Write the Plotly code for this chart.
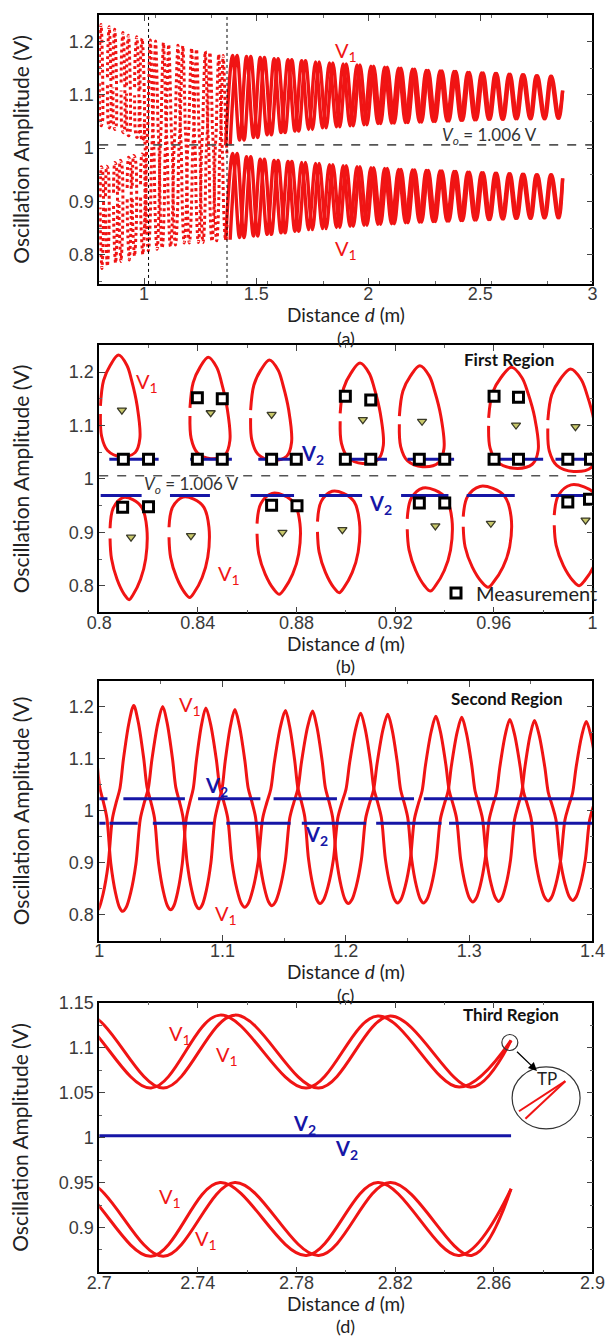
import plotly.graph_objects as go
from plotly.subplots import make_subplots

RED = "#f01414"
BLUE = "#1616a6"
GRAY = "#555555"
TXT = "Lato"
TICKF = "Liberation Sans"

# ---------------- data ----------------
V_O = 1.006
BIFURCATION_D = [1.02, 1.37]

# Solid V1 bands (two branches A/B) beyond the second region
A_PEAK_X = [1.395, 1.457, 1.518, 1.580, 1.642, 1.703, 1.765, 1.827, 1.888, 1.950, 2.012, 2.073,
            2.135, 2.197, 2.258, 2.320, 2.382, 2.443, 2.505, 2.566, 2.627, 2.687, 2.749, 2.813]
A_TROUGH_X = [1.364, 1.426, 1.488, 1.549, 1.611, 1.673, 1.734, 1.796, 1.858, 1.919, 1.981, 2.043, 2.104,
              2.166, 2.228, 2.289, 2.351, 2.413, 2.474, 2.536, 2.597, 2.657, 2.721, 2.784, 2.846]
B_PEAK_X = [1.415, 1.476, 1.537, 1.598, 1.659, 1.720, 1.781, 1.842, 1.902, 1.963, 2.024, 2.085,
            2.146, 2.207, 2.268, 2.329, 2.391, 2.451, 2.513, 2.573, 2.633, 2.694, 2.755, 2.818]
B_TROUGH_X = [1.384, 1.446, 1.507, 1.568, 1.629, 1.690, 1.751, 1.812, 1.873, 1.933, 1.994, 2.055, 2.116,
              2.177, 2.238, 2.299, 2.360, 2.421, 2.482, 2.543, 2.603, 2.664, 2.726, 2.789, 2.851]
UP_PEAK_Y = [1.174, 1.172, 1.170, 1.168, 1.166, 1.164, 1.162, 1.160, 1.158, 1.156, 1.154, 1.152,
             1.150, 1.148, 1.146, 1.145, 1.144, 1.142, 1.141, 1.140, 1.139, 1.138, 1.136, 1.135]
UP_TROUGH_Y = [1.005, 1.015, 1.020, 1.025, 1.029, 1.032, 1.035, 1.038, 1.040, 1.042, 1.044, 1.046, 1.047,
               1.048, 1.049, 1.050, 1.051, 1.052, 1.053, 1.054, 1.054, 1.055, 1.055, 1.055, 1.056]
LO_PEAK_Y = [0.990, 0.984, 0.979, 0.977, 0.975, 0.973, 0.971, 0.969, 0.967, 0.965, 0.963, 0.962,
             0.960, 0.959, 0.958, 0.957, 0.956, 0.955, 0.954, 0.953, 0.952, 0.951, 0.950, 0.950]
LO_TROUGH_Y = [0.828, 0.832, 0.835, 0.838, 0.841, 0.844, 0.847, 0.849, 0.851, 0.853, 0.855, 0.857, 0.858,
               0.860, 0.861, 0.862, 0.863, 0.864, 0.865, 0.866, 0.867, 0.868, 0.868, 0.869, 0.869]
TP_X = 2.867
TP_UP_Y = 1.108
TP_LO_Y = 0.943

# First region: closed V1 loops (bounding boxes)
B_UP_LEFT = [0.8005, 0.8368, 0.8614, 0.8977, 0.9217, 0.9579, 0.9819]
B_UP_RIGHT = [0.8165, 0.8530, 0.8780, 0.9152, 0.9398, 0.9780, 1.0020]
B_UP_BOTTOM = [1.042, 1.038, 1.035, 1.029, 1.023, 1.020, 1.014]
B_UP_TOP = [1.232, 1.228, 1.223, 1.217, 1.212, 1.209, 1.206]
B_LO_LEFT = [0.8044, 0.8283, 0.8640, 0.8885, 0.9249, 0.9476, 0.9845]
B_LO_RIGHT = [0.8193, 0.8445, 0.8814, 0.9055, 0.9430, 0.9670, 1.0040]
B_LO_BOTTOM = [0.774, 0.778, 0.784, 0.787, 0.790, 0.797, 0.800]
B_LO_TOP = [0.965, 0.966, 0.973, 0.977, 0.983, 0.986, 0.989]
# loop outline templates (fraction of box width / height)
UP_LOOP_U = [0.00, 0.08, 0.25, 0.46, 0.67, 0.79, 0.93, 1.00, 0.88, 0.52, 0.18, 0.03, 0.00]
UP_LOOP_W = [0.50, 0.75, 0.90, 1.00, 0.90, 0.75, 0.50, 0.18, 0.04, 0.00, 0.06, 0.20, 0.42]
LO_LOOP_U = [0.00, 0.09, 0.35, 0.62, 0.87, 1.00, 0.97, 0.83, 0.63, 0.52, 0.39, 0.19, 0.04, 0.00]
LO_LOOP_W = [0.70, 0.90, 1.00, 0.98, 0.90, 0.70, 0.40, 0.20, 0.05, 0.00, 0.05, 0.20, 0.40, 0.60]

B_V2_UP_Y = 1.037
B_V2_LO_Y = 0.969
B_V2_UP_START = [0.8041, 0.8369, 0.8645, 0.8978, 0.9250, 0.9578, 0.9850]
B_V2_UP_END = [0.8241, 0.8538, 0.8817, 0.9167, 0.9439, 0.9800, 1.0000]
B_V2_LO_START = [0.8006, 0.8287, 0.8614, 0.8891, 0.9224, 0.9490, 0.9831]
B_V2_LO_END = [0.8172, 0.8449, 0.8790, 0.9066, 0.9416, 0.9685, 1.0000]

MEAS_X = [0.8098, 0.8200, 0.8398, 0.8499, 0.8699, 0.8799, 0.8998, 0.9101, 0.9298, 0.9401, 0.9601, 0.9700, 0.9900, 0.9992,
          0.8398, 0.8499, 0.8998, 0.9101, 0.9601, 0.9700,
          0.8095, 0.8200, 0.8699, 0.8802, 0.9298, 0.9401, 0.9900, 0.9988]
MEAS_Y = [1.037, 1.037, 1.037, 1.037, 1.037, 1.037, 1.037, 1.037, 1.037, 1.037, 1.037, 1.037, 1.037, 1.037,
          1.152, 1.150, 1.155, 1.148, 1.155, 1.153,
          0.947, 0.948, 0.951, 0.950, 0.955, 0.955, 0.957, 0.962]
TRI_X = [0.8092, 0.8452, 0.8699, 0.9069, 0.9309, 0.9690, 0.9931, 0.8129, 0.8372, 0.8743, 0.8986, 0.9363, 0.9588, 0.9972]
TRI_Y = [1.129, 1.124, 1.121, 1.111, 1.108, 1.101, 1.098, 0.891, 0.894, 0.900, 0.905, 0.912, 0.917, 0.923]

# Second region: two V1 branches (extrema)
C_A_PEAK_X = [1.028, 1.0865, 1.151, 1.212, 1.273, 1.333, 1.395]
C_A_PEAK_Y = [1.203, 1.198, 1.193, 1.188, 1.182, 1.176, 1.172]
C_A_TROUGH_X = [0.997, 1.058, 1.118, 1.179, 1.242, 1.303, 1.364, 1.426]
C_A_TROUGH_Y = [0.805, 0.810, 0.815, 0.822, 0.823, 0.825, 0.827, 0.830]
C_B_PEAK_X = [0.990, 1.0515, 1.110, 1.173, 1.234, 1.294, 1.353, 1.415]
C_B_PEAK_Y = [1.205, 1.201, 1.195, 1.192, 1.186, 1.180, 1.174, 1.170]
C_B_TROUGH_X = [1.019, 1.081, 1.140, 1.202, 1.263, 1.324, 1.384]
C_B_TROUGH_Y = [0.807, 0.812, 0.818, 0.822, 0.823, 0.826, 0.828]
# shape of a swing between extrema (fraction of span, fraction of height)
DESC_F = [0.12, 0.27, 0.36, 0.46, 0.56, 0.67, 0.80, 0.91]
DESC_G = [0.92, 0.74, 0.60, 0.53, 0.45, 0.23, 0.09, 0.02]
ASC_F = [0.09, 0.20, 0.33, 0.44, 0.54, 0.64, 0.73, 0.88]
ASC_G = [0.02, 0.09, 0.23, 0.45, 0.53, 0.60, 0.74, 0.92]

C_V2_UP_Y = 1.0235
C_V2_LO_Y = 0.9765
C_V2_UP_START = [1.000, 1.0196, 1.0802, 1.1414, 1.2020, 1.2632]
C_V2_UP_END = [1.0067, 1.0695, 1.1307, 1.1928, 1.2553, 1.4000]
C_V2_LO_START = [1.000, 1.0083, 1.0435, 1.1031, 1.1643, 1.2246, 1.2837]
C_V2_LO_END = [1.0052, 1.0312, 1.0924, 1.1552, 1.2164, 1.2776, 1.4000]

# Third region V2
D_V2_Y = 1.002
D_V2_X = [2.700, 2.867]


# ---------------- builders ----------------
def band(tr_x, tr_y, pk_x, pk_y, end_x, end_y):
    xs, ys = [], []
    for i in range(len(pk_x)):
        xs += [tr_x[i], pk_x[i]]
        ys += [tr_y[i], pk_y[i]]
    xs += [tr_x[-1], end_x]
    ys += [tr_y[-1], end_y]
    return xs, ys


def loops(lefts, rights, bottoms, tops, U, W):
    xs, ys = [], []
    for l, r, b, t in zip(lefts, rights, bottoms, tops):
        xs += [l + u * (r - l) for u in U] + [None]
        ys += [b + w * (t - b) for w in W] + [None]
    return xs, ys


def swing(pk_x, pk_y, tr_x, tr_y):
    ext = sorted([(x, y, "P") for x, y in zip(pk_x, pk_y)] + [(x, y, "T") for x, y in zip(tr_x, tr_y)])
    xs, ys = [ext[0][0]], [ext[0][1]]
    for (x0, y0, k0), (x1, y1, k1) in zip(ext[:-1], ext[1:]):
        F, G = (DESC_F, DESC_G) if k0 == "P" else (ASC_F, ASC_G)
        lo, hi = min(y0, y1), max(y0, y1)
        for f, g in zip(F, G):
            xs.append(x0 + f * (x1 - x0))
            ys.append(lo + g * (hi - lo))
        xs.append(x1)
        ys.append(y1)
    return xs, ys


def segs(starts, ends, y):
    xs, ys = [], []
    for s, e in zip(starts, ends):
        xs += [s, e, None]
        ys += [y, y, None]
    return xs, ys


def clip(xs, ys, lo, hi):
    ox, oy = [], []
    for x, y in zip(xs, ys):
        if x is None or lo <= x <= hi:
            ox.append(x)
            oy.append(y)
    return ox, oy


fig = make_subplots(rows=4, cols=1)

up_loops = loops(B_UP_LEFT, B_UP_RIGHT, B_UP_BOTTOM, B_UP_TOP, UP_LOOP_U, UP_LOOP_W)
lo_loops = loops(B_LO_LEFT, B_LO_RIGHT, B_LO_BOTTOM, B_LO_TOP, LO_LOOP_U, LO_LOOP_W)
c_a = swing(C_A_PEAK_X, C_A_PEAK_Y, C_A_TROUGH_X, C_A_TROUGH_Y)
c_b = swing(C_B_PEAK_X, C_B_PEAK_Y, C_B_TROUGH_X, C_B_TROUGH_Y)
bands = [
    band(A_TROUGH_X, UP_TROUGH_Y, A_PEAK_X, UP_PEAK_Y, TP_X, TP_UP_Y),
    band(B_TROUGH_X, UP_TROUGH_Y, B_PEAK_X, UP_PEAK_Y, TP_X, TP_UP_Y),
    band(A_TROUGH_X, LO_TROUGH_Y, A_PEAK_X, LO_PEAK_Y, TP_X, TP_LO_Y),
    band(B_TROUGH_X, LO_TROUGH_Y, B_PEAK_X, LO_PEAK_Y, TP_X, TP_LO_Y),
]

dotted = dict(color=RED, width=3, dash="3px,3px", shape="spline", smoothing=1.0)
solid = dict(color=RED, width=3.4, shape="spline", smoothing=1.0)

# ----- (a) overview -----
for xs, ys in [up_loops, lo_loops, clip(*c_a, 1.0, 1.372), clip(*c_b, 1.0, 1.372)]:
    fig.add_trace(go.Scatter(x=xs, y=ys, mode="lines", line=dotted, showlegend=False, hoverinfo="skip"), 1, 1)
for xs, ys in bands:
    fig.add_trace(go.Scatter(x=xs, y=ys, mode="lines", line=solid, showlegend=False, hoverinfo="skip"), 1, 1)

# ----- (b) first region -----
for xs, ys in [up_loops, lo_loops]:
    fig.add_trace(go.Scatter(x=xs, y=ys, mode="lines", line=dict(color=RED, width=3, shape="spline", smoothing=1.0),
                             showlegend=False, hoverinfo="skip"), 2, 1)
for xs, ys in [segs(B_V2_UP_START, B_V2_UP_END, B_V2_UP_Y), segs(B_V2_LO_START, B_V2_LO_END, B_V2_LO_Y)]:
    fig.add_trace(go.Scatter(x=xs, y=ys, mode="lines", line=dict(color=BLUE, width=3), showlegend=False), 2, 1)
fig.add_trace(go.Scatter(x=TRI_X, y=TRI_Y, mode="markers", showlegend=False,
                         marker=dict(symbol="triangle-down", size=8, color="#c8c86a",
                                     line=dict(color="#3a3a28", width=1.3))), 2, 1)
fig.add_trace(go.Scatter(x=MEAS_X, y=MEAS_Y, mode="markers", name="Measurement", showlegend=True,
                         marker=dict(symbol="square", size=10, color="white",
                                     line=dict(color="black", width=3))), 2, 1)

# ----- (c) second region -----
for xs, ys in [c_a, c_b]:
    fig.add_trace(go.Scatter(x=xs, y=ys, mode="lines", line=dict(color=RED, width=3, shape="spline", smoothing=0.9),
                             showlegend=False, hoverinfo="skip"), 3, 1)
for xs, ys in [segs(C_V2_UP_START, C_V2_UP_END, C_V2_UP_Y), segs(C_V2_LO_START, C_V2_LO_END, C_V2_LO_Y)]:
    fig.add_trace(go.Scatter(x=xs, y=ys, mode="lines", line=dict(color=BLUE, width=3), showlegend=False), 3, 1)

# ----- (d) third region -----
for xs, ys in bands:
    fig.add_trace(go.Scatter(x=xs, y=ys, mode="lines", line=dict(color=RED, width=3, shape="spline", smoothing=1.0),
                             showlegend=False, hoverinfo="skip"), 4, 1)
fig.add_trace(go.Scatter(x=D_V2_X, y=[D_V2_Y, D_V2_Y], mode="lines", line=dict(color=BLUE, width=3),
                         showlegend=False), 4, 1)

# reference lines
for r in (1, 2):
    fig.add_hline(y=V_O, line=dict(color=GRAY, width=1.6, dash="dash"), row=r, col=1)
for xv in BIFURCATION_D:
    fig.add_vline(x=xv, line=dict(color="black", width=1, dash="dot"), row=1, col=1)

# ---------------- axes ----------------
W, H = 616, 1338
xdom = [90 / W, 605 / W]
ydoms = [(5, 276), (338, 607), (676, 938), (1000, 1272)]
xranges = [[0.8, 3.0], [0.8, 1.0], [1.0, 1.4], [2.7, 2.9]]
yranges = [[0.745, 1.25], [0.75, 1.25], [0.75, 1.25], [0.85, 1.15]]
xticks = [[1, 1.5, 2, 2.5, 3], [0.8, 0.84, 0.88, 0.92, 0.96, 1.0], [1.0, 1.1, 1.2, 1.3, 1.4],
          [2.7, 2.74, 2.78, 2.82, 2.86, 2.9]]
xtext = [["1", "1.5", "2", "2.5", "3"], ["0.8", "0.84", "0.88", "0.92", "0.96", "1"], ["1", "1.1", "1.2", "1.3", "1.4"],
         ["2.7", "2.74", "2.78", "2.82", "2.86", "2.9"]]
xminor = [0.25, 0.02, 0.05, 0.02]
yticks = [[0.8, 0.9, 1.0, 1.1, 1.2]] * 3 + [[0.9, 0.95, 1.0, 1.05, 1.1, 1.15]]
ytext = [["0.8", "0.9", "1", "1.1", "1.2"]] * 3 + [["0.9", "0.95", "1", "1.05", "1.1", "1.15"]]
yminor = [0.05, 0.05, 0.05, 0.025]
ystand = [33, 33, 33, 24]

tickfont = dict(family=TICKF, size=18, color="#3a3a3a")
for i in range(4):
    top, bot = ydoms[i]
    fig.update_xaxes(row=i + 1, col=1, domain=xdom, range=xranges[i], tickmode="array", tickvals=xticks[i],
                     ticktext=xtext[i], ticks="inside", ticklen=6, tickcolor="#444", showgrid=False, zeroline=False,
                     showline=True, linecolor="black", linewidth=1.6, mirror="allticks", tickfont=tickfont,
                     ticklabelstandoff=-7,
                     minor=dict(ticks="inside", ticklen=3, dtick=xminor[i], tick0=xranges[i][0], tickcolor="#666"))
    fig.update_yaxes(row=i + 1, col=1, domain=[1 - bot / H, 1 - top / H], range=yranges[i], tickmode="array",
                     tickvals=yticks[i], ticktext=ytext[i], ticks="inside", ticklen=6, tickcolor="#444",
                     showgrid=False, zeroline=False, showline=True, linecolor="black", linewidth=1.6,
                     mirror="allticks", tickfont=tickfont,
                     minor=dict(ticks="inside", ticklen=3, dtick=yminor[i], tick0=0.8, tickcolor="#666"),
                     title=dict(text="Oscillation Amplitude (V)", standoff=ystand[i],
                                font=dict(family=TXT, size=21, color="#222")))

# ---------------- annotations ----------------
ann = []


def txt(text, x, y, ref, color=RED, size=20, **kw):
    ann.append(dict(text=text, x=x, y=y, xref="x" + ref, yref="y" + ref, showarrow=False,
                    font=dict(family=TXT, size=size, color=color), **kw))


V1 = "V<sub>1</sub>"
V2 = "<b>V<sub>2</sub></b>"
VO = "<i>V<sub>o</sub></i> = 1.006 V"
# (a)
txt(V1, 1.90, 1.182, "", size=20)
txt(V1, 1.90, 0.809, "", size=20)
txt(VO, 2.54, 1.022, "", color="#333", size=17)
# (b)
txt(V1, 0.8195, 1.18, "2")
txt(V1, 0.8525, 0.822, "2")
txt(V2, 0.8863, 1.046, "2", color=BLUE)
txt(V2, 0.9140, 0.953, "2", color=BLUE)
txt(VO, 0.8375, 0.989, "2", color="#333", size=17)
txt("<b>First Region</b>", 0.966, 1.224, "2", color="#111", size=17)
# (c)
txt(V1, 1.074, 1.203, "3")
txt(V1, 1.103, 0.800, "3")
txt(V2, 1.0955, 1.048, "3", color=BLUE)
txt(V2, 1.1766, 0.952, "3", color=BLUE)
txt("<b>Second Region</b>", 1.331, 1.216, "3", color="#111", size=17)
# (d)
txt(V1, 2.7326, 1.115, "4")
txt(V1, 2.7518, 1.091, "4")
txt(V1, 2.7287, 0.933, "4")
txt(V1, 2.7433, 0.887, "4")
txt(V2, 2.7833, 1.015, "4", color=BLUE)
txt(V2, 2.8001, 0.987, "4", color=BLUE)
txt("<b>Third Region</b>", 2.867, 1.137, "4", color="#111", size=17)
txt("TP", 2.8815, 1.066, "4", color="#222", size=17)
ann.append(dict(x=2.8775, y=1.074, ax=2.8688, ay=1.097, xref="x4", yref="y4", axref="x4", ayref="y4",
                showarrow=True, arrowhead=2, arrowsize=1.3, arrowwidth=1.3, arrowcolor="black", text=""))
# x titles and captions
for i, lab in enumerate(["(a)", "(b)", "(c)", "(d)"]):
    ref = "" if i == 0 else str(i + 1)
    ann.append(dict(text="Distance <i>d</i> (m)", x=0.5, y=0, xref="x" + ref + " domain",
                    yref="y" + ref + " domain", yanchor="middle", yshift=-31, showarrow=False,
                    font=dict(family=TXT, size=19, color="#222")))
    ann.append(dict(text=lab, x=0.5, y=0, xref="x" + ref + " domain", yref="y" + ref + " domain",
                    yanchor="middle", yshift=-54, showarrow=False, font=dict(family=TXT, size=18, color="#222")))

# zoom circles for the turning point
shapes = [
    dict(type="circle", xref="x4", yref="y4", xsizemode="pixel", ysizemode="pixel", xanchor=2.8665, yanchor=1.1056,
         x0=-8, x1=8, y0=-8, y1=8, line=dict(color="#333", width=1.2)),
    dict(type="circle", xref="x4", yref="y4", xsizemode="pixel", ysizemode="pixel", xanchor=2.8812, yanchor=1.044,
         x0=-34, x1=34, y0=-31, y1=31, line=dict(color="#333", width=1.2)),
    dict(type="line", xref="x4", yref="y4", x0=2.8702, y0=1.0292, x1=2.8890, y1=1.0626, line=dict(color=RED, width=2)),
    dict(type="line", xref="x4", yref="y4", x0=2.8728, y0=1.0208, x1=2.8890, y1=1.0626, line=dict(color=RED, width=2)),
]

fig.update_layout(
    width=W, height=H, margin=dict(l=0, r=0, t=0, b=0), plot_bgcolor="white", paper_bgcolor="white",
    annotations=list(fig.layout.annotations) + ann,
    shapes=list(fig.layout.shapes) + shapes,
    showlegend=True,
    legend=dict(x=1.0, xanchor="right", y=1 - 607 / H, yanchor="bottom", bgcolor="rgba(0,0,0,0)",
                font=dict(family=TXT, size=20, color="#222"), itemwidth=30, tracegroupgap=0,
                borderwidth=0),
)

fig.write_html("out.html")
